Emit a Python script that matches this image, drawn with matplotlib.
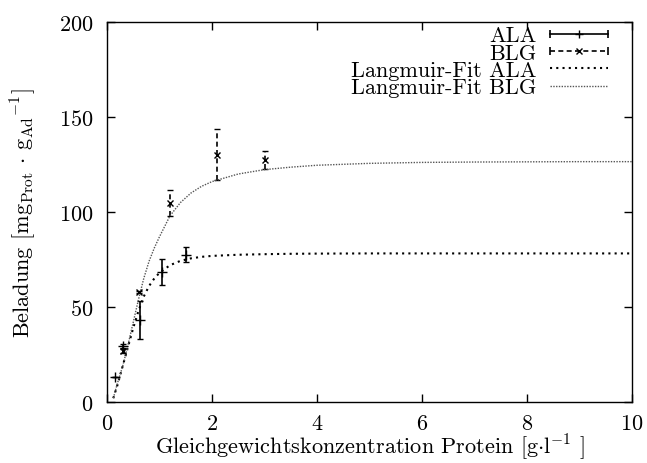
import numpy as np
import matplotlib
matplotlib.use('Agg')
import matplotlib.pyplot as plt
from matplotlib.lines import Line2D
from matplotlib.legend_handler import HandlerBase

plt.rcParams['font.family'] = 'serif'
plt.rcParams['font.serif'] = ['cmr10']
plt.rcParams['mathtext.fontset'] = 'cm'
plt.rcParams['axes.formatter.use_mathtext'] = True
plt.rcParams['font.size'] = 16

ala_c = [0.15, 0.31, 0.62, 1.05, 1.50]
ala_q = [13.3, 29.5, 43.3, 68.3, 77.6]
ala_err = [0.0, 1.0, 10.0, 6.8, 4.0]

blg_c = [0.31, 0.60, 1.20, 2.10, 3.00]
blg_q = [27.0, 57.8, 104.8, 130.2, 127.4]
blg_err = [1.0, 0.5, 6.8, 13.4, 4.8]

# Langmuir-Fits
fit_c = [0.12, 0.2, 0.3, 0.4, 0.5, 0.6, 0.7, 0.8, 0.9, 1.0, 1.2, 1.4, 1.6,
         1.8, 2.0, 2.5, 3.0, 3.5, 4.0, 5.0, 6.0, 7.0, 8.0, 9.0, 10.0]
fit_ala = [2.0, 9.0, 19.0, 29.0, 39.0, 48.0, 55.5, 61.0, 65.0, 68.0, 72.0,
           74.3, 75.6, 76.4, 76.9, 77.5, 77.8, 78.0, 78.1, 78.2, 78.2, 78.2,
           78.2, 78.2, 78.2]
fit_blg = [2.0, 10.0, 19.0, 30.0, 42.0, 54.0, 65.0, 74.0, 81.0, 87.0, 98.0,
           105.0, 110.0, 113.5, 116.0, 120.0, 122.3, 123.6, 124.6, 125.6,
           126.1, 126.3, 126.4, 126.5, 126.5]


class HandlerGnuErr(HandlerBase):
    # Linie mit Endkappen und Symbol in der Mitte, wie bei gnuplot
    def create_artists(self, legend, orig_handle, xdescent, ydescent,
                       width, height, fontsize, trans):
        y = height / 2 - ydescent
        x0, x1 = -xdescent, width - xdescent
        line = Line2D([x0, x1], [y, y])
        line.update_from(orig_handle)
        line.set_marker('None')
        mk = Line2D([(x0 + x1) / 2], [y], ls='', color='k',
                    marker=orig_handle.get_marker(),
                    ms=orig_handle.get_markersize(), mew=1.0)
        caps = Line2D([x0, x1], [y, y], ls='', color='k', marker='|',
                      ms=6, mew=1.2)
        for a in (line, mk, caps):
            a.set_transform(trans)
        return [line, mk, caps]


fig = plt.figure(figsize=(6.47, 4.64), dpi=100)
ax = fig.add_axes([107/647, 61/464, 525/647, 380/464])

eb1 = ax.errorbar(ala_c, ala_q, yerr=ala_err, fmt='+', color='k', ms=7,
                  mew=1.0, elinewidth=1.2, capsize=2.5, capthick=1.2)
eb2 = ax.errorbar(blg_c, blg_q, yerr=blg_err, fmt='x', color='k', ms=5,
                  mew=1.0, elinewidth=1.2, capsize=2.5, capthick=1.2)
eb2[2][0].set_linestyle((0, (3, 2)))

ax.plot(fit_c, fit_ala, color='k', lw=1.5, ls=(0, (1, 2)))
ax.plot(fit_c, fit_blg, color='#555555', lw=1.0, ls=(0, (1, 1)))

ax.set_xlim(0, 10)
ax.set_ylim(0, 200)
ax.set_xticks([0, 2, 4, 6, 8, 10])
ax.set_yticks([0, 50, 100, 150, 200])
ax.tick_params(direction='in', length=6, width=1, top=True, right=True)
ax.tick_params(axis='y', pad=10)
ax.tick_params(axis='x', pad=8)
for s in ax.spines.values():
    s.set_linewidth(1.0)

ax.set_xlabel(r'Gleichgewichtskonzentration Protein [g$\cdot$l$^{-1}$ ]',
              labelpad=-1)
ax.set_ylabel(r'Beladung [mg$_{\mathrm{Prot}}$ $\cdot$ g$_{\mathrm{Ad}}$$^{-1}$]',
              labelpad=15)

# Legende im gnuplot-Stil
h_ala = Line2D([], [], color='k', lw=1.2, marker='+', ms=6)
h_blg = Line2D([], [], color='k', lw=1.2, ls=(0, (3, 2)), marker='x', ms=5)
h_fa = Line2D([], [], color='k', lw=1.5, ls=(0, (1, 2)))
h_fb = Line2D([], [], color='#555555', lw=1.0, ls=(0, (1, 1)))

ax.legend([h_ala, h_blg, h_fa, h_fb],
          ['ALA', 'BLG', 'Langmuir-Fit ALA', 'Langmuir-Fit BLG'],
          loc='upper right', bbox_to_anchor=(0.954, 0.99),
          frameon=False, markerfirst=False,
          handlelength=2.6, handletextpad=0.6, labelspacing=-0.1,
          borderaxespad=0.0, borderpad=0.0,
          handler_map={h_ala: HandlerGnuErr(), h_blg: HandlerGnuErr()})

fig.savefig('out.png', dpi=100)
